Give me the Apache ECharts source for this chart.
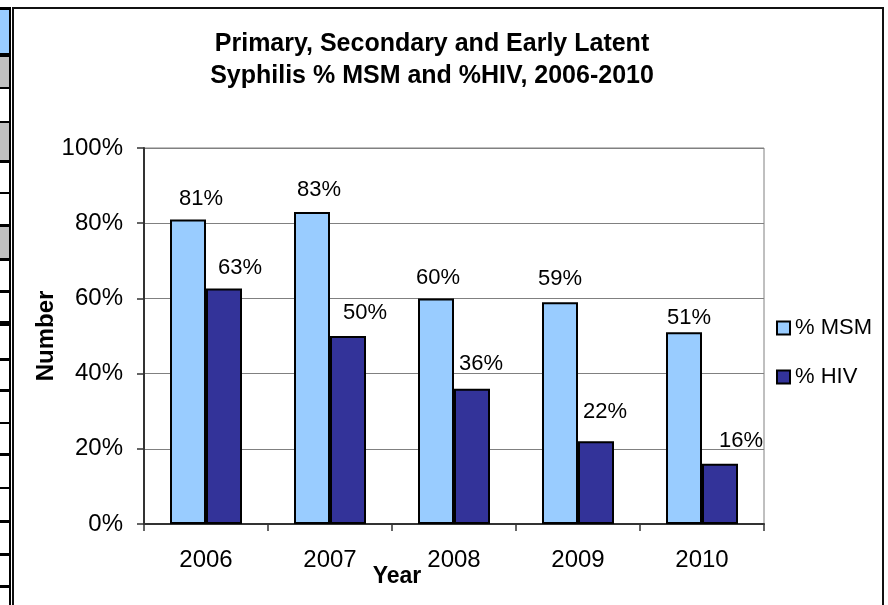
<!DOCTYPE html>
<html>
<head>
<meta charset="utf-8">
<script src="https://cdn.jsdelivr.net/npm/echarts@6/dist/echarts.min.js"></script>
<style>
html,body{margin:0;padding:0;background:#fff;}
#chart{width:888px;height:605px;}
</style>
</head>
<body>
<div id="chart"></div>
<script>
const titleLines = ["Primary, Secondary and Early Latent", "Syphilis % MSM and %HIV, 2006-2010"];
const years = ["2006", "2007", "2008", "2009", "2010"];
const msmValues = [81, 83, 60, 59, 51];
const hivValues = [62.6, 50, 36, 22, 16];
const seriesNames = ["% MSM", "% HIV"];
const yTicks = [0, 20, 40, 60, 80, 100];
const yAxisTitle = "Number";
const xAxisTitle = "Year";

// hand-placed data-label nudges (as in the original Excel chart), px [dx, dy]
const msmLabelNudge = [[13, 0], [7, -1], [2, 1], [0, -2], [5, 7]];
const hivLabelNudge = [[16, 0], [17, -2], [9, -4], [9, -8], [21, -2]];

const FONT = "'Liberation Sans', Arial, Helvetica, sans-serif";

// decorative spreadsheet strip on the left edge
const stripCells = [
  [10, 53, '#99CCFF'], [57, 87, '#C0C0C0'], [89, 121, '#FFFFFF'], [123, 160, '#C0C0C0'],
  [163, 192, '#FFFFFF'], [194, 224, '#FFFFFF'], [227, 258, '#C0C0C0'], [261, 290, '#FFFFFF'],
  [293, 321, '#FFFFFF'], [326, 358, '#FFFFFF'], [361, 389, '#FFFFFF'], [392, 422, '#FFFFFF'],
  [424, 453, '#FFFFFF'], [456, 487, '#FFFFFF'], [489, 520, '#FFFFFF'], [523, 553, '#FFFFFF'],
  [556, 585, '#FFFFFF'], [588, 605, '#FFFFFF']
];

const graphics = [
  { type: 'rect', shape: { x: 0, y: 7, width: 11, height: 600 }, style: { fill: '#000' }, silent: true },
  { type: 'rect', shape: { x: 13, y: 8, width: 870, height: 610 }, style: { fill: 'none', stroke: '#111', lineWidth: 2 }, silent: true }
];
stripCells.forEach(c => {
  graphics.push({ type: 'rect', shape: { x: 0, y: c[0], width: 9, height: c[1] - c[0] }, style: { fill: c[2] }, silent: true });
});

const chart = echarts.init(document.getElementById('chart'), null, { renderer: 'canvas' });

const labelOpt = {
  show: true,
  position: 'top',
  distance: 10,
  color: '#000',
  fontFamily: FONT,
  fontSize: 22,
  formatter: p => Math.round(p.value) + '%'
};

function withNudges(values, nudges) {
  return values.map((v, i) => ({ value: v, label: { offset: [nudges[i][0], nudges[i][1]] } }));
}

chart.setOption({
  backgroundColor: '#fff',
  animation: false,
  graphic: graphics,
  title: {
    text: titleLines.join('\n'),
    left: 432,
    top: 28,
    padding: 0,
    textAlign: 'center',
    textStyle: { fontFamily: FONT, fontWeight: 'bold', fontSize: 25, lineHeight: 32, color: '#000' }
  },
  legend: {
    orient: 'vertical',
    left: 776,
    top: 317,
    padding: 0,
    itemWidth: 13,
    itemHeight: 13,
    itemGap: 27,
    icon: 'rect',
    itemStyle: { borderColor: '#000', borderWidth: 2 },
    textStyle: { fontFamily: FONT, fontSize: 22, color: '#000' },
    data: seriesNames
  },
  grid: {
    left: 144, right: 124, top: 148, bottom: 81,
    show: true, borderColor: '#808080', borderWidth: 1, backgroundColor: 'transparent'
  },
  xAxis: {
    type: 'category',
    data: years,
    name: xAxisTitle,
    nameLocation: 'middle',
    nameGap: 41,
    nameMoveOverlap: false,
    nameTextStyle: { fontFamily: FONT, fontWeight: 'bold', fontSize: 23, color: '#000', padding: [0, 114, 0, 0] },
    axisLine: { lineStyle: { color: '#333', width: 2 } },
    axisTick: { show: true, length: 7, lineStyle: { color: '#333', width: 1.5 } },
    axisLabel: { fontFamily: FONT, fontSize: 24, color: '#000', margin: 24 }
  },
  yAxis: {
    type: 'value',
    min: yTicks[0],
    max: yTicks[yTicks.length - 1],
    interval: 20,
    name: yAxisTitle,
    nameLocation: 'middle',
    nameGap: 86,
    nameMoveOverlap: false,
    nameTextStyle: { fontFamily: FONT, fontWeight: 'bold', fontSize: 24, color: '#000' },
    axisLine: { show: true, lineStyle: { color: '#333', width: 2 } },
    axisTick: { show: true, length: 7, lineStyle: { color: '#333', width: 1.5 } },
    axisLabel: { fontFamily: FONT, fontSize: 24, color: '#000', margin: 21, formatter: '{value}%' },
    splitLine: { show: true, lineStyle: { color: '#808080', width: 1 } }
  },
  series: [
    {
      name: seriesNames[0], type: 'bar', data: withNudges(msmValues, msmLabelNudge),
      barWidth: 36, barGap: '0%',
      itemStyle: { color: '#99CCFF', borderColor: '#000', borderWidth: 2 },
      label: labelOpt
    },
    {
      name: seriesNames[1], type: 'bar', data: withNudges(hivValues, hivLabelNudge),
      barWidth: 36, barGap: '0%',
      itemStyle: { color: '#333399', borderColor: '#000', borderWidth: 2 },
      label: labelOpt
    }
  ]
});
</script>
</body>
</html>
